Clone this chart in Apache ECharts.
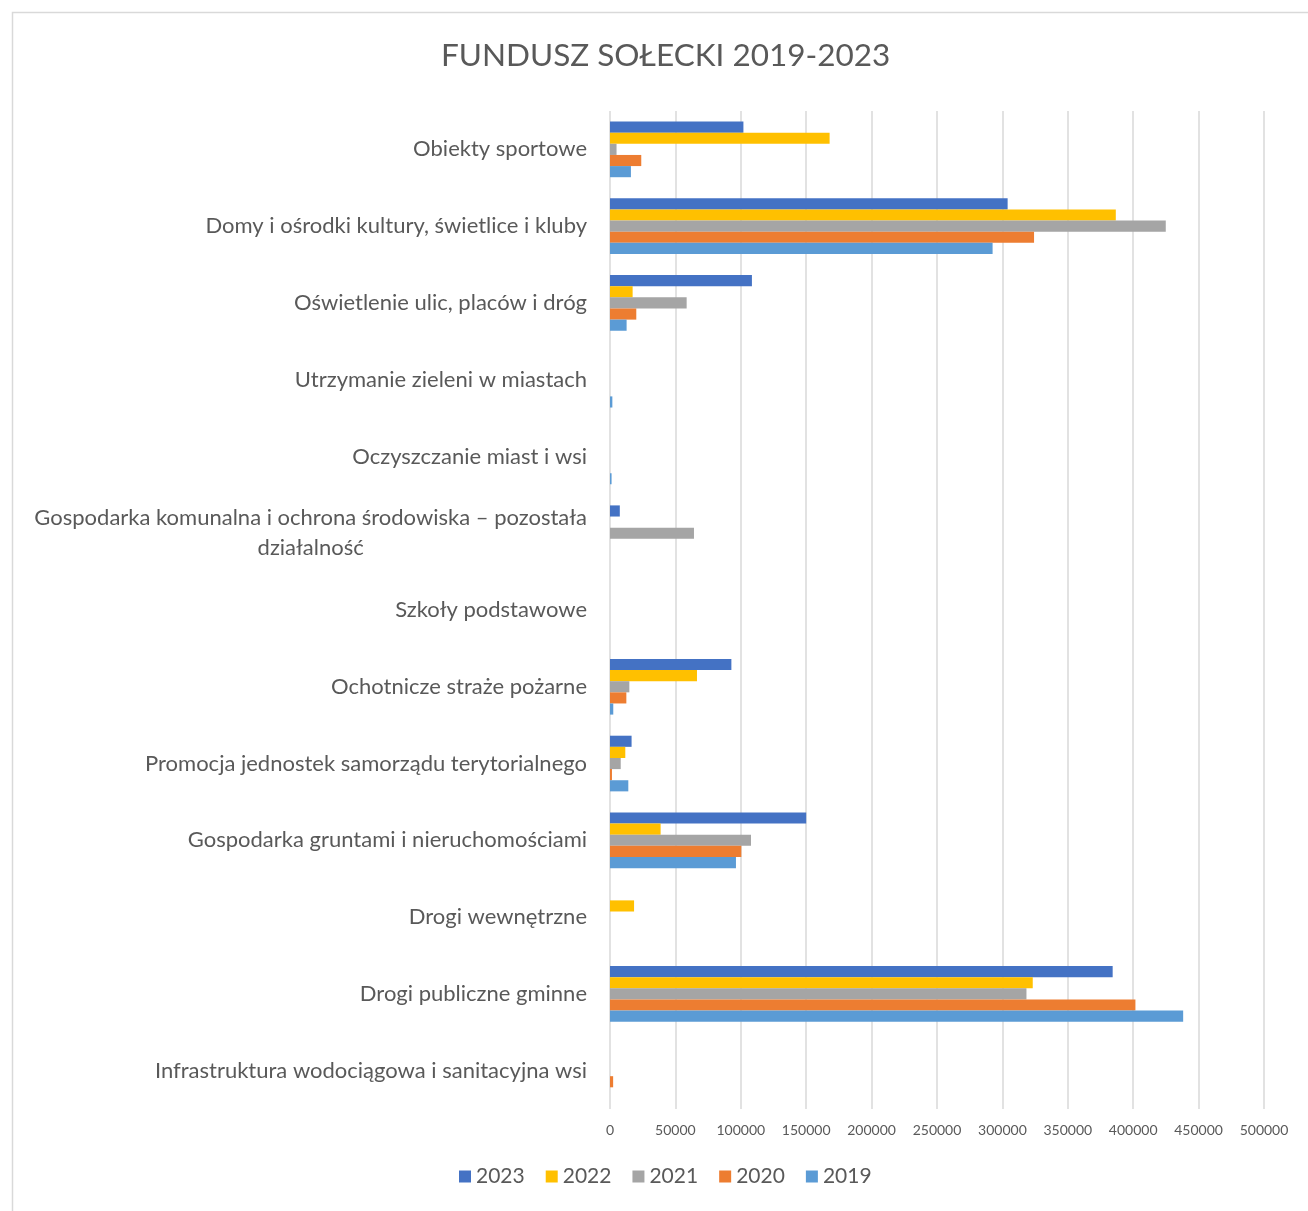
<!DOCTYPE html>
<html>
<head>
<meta charset="utf-8">
<script src="https://cdn.jsdelivr.net/npm/echarts@6/dist/echarts.min.js"></script>
<style>
html,body{margin:0;padding:0;background:#fff;}
#c{width:1308px;height:1211px;}
</style>
</head>
<body>
<div id="c"></div>
<script>
const title = 'FUNDUSZ SOŁECKI 2019-2023';
const categories = [
  'Obiekty sportowe',
  'Domy i ośrodki kultury, świetlice i kluby',
  'Oświetlenie ulic, placów i dróg',
  'Utrzymanie zieleni w miastach',
  'Oczyszczanie miast i wsi',
  'Gospodarka komunalna i ochrona środowiska – pozostała działalność',
  'Szkoły podstawowe',
  'Ochotnicze straże pożarne',
  'Promocja jednostek samorządu terytorialnego',
  'Gospodarka gruntami i nieruchomościami',
  'Drogi wewnętrzne',
  'Drogi publiczne gminne',
  'Infrastruktura wodociągowa i sanitacyjna wsi'
];
const seriesNames = ['2023', '2022', '2021', '2020', '2019'];
const v2023 = [102000, 304000, 108500, 0, 0, 7500, 0, 92800, 16500, 150000, 0, 384300, 0];
const v2022 = [167900, 386700, 17300, 0, 0, 0, 0, 66500, 11700, 38700, 18400, 323200, 0];
const v2021 = [5000, 424900, 58600, 0, 0, 64200, 0, 14800, 8200, 107800, 0, 318400, 0];
const v2020 = [23900, 324200, 20100, 0, 0, 0, 0, 12500, 1500, 100400, 0, 401700, 2400];
const v2019 = [16000, 292500, 12700, 1800, 1200, 0, 0, 2500, 14000, 96300, 0, 438200, 0];
const colors = ['#4472C4', '#FFC000', '#A5A5A5', '#ED7D31', '#5B9BD5'];
const xTicks = [0, 50000, 100000, 150000, 200000, 250000, 300000, 350000, 400000, 450000, 500000];

const allValues = [v2023, v2022, v2021, v2020, v2019];
const FONT = 'Lato';
const chart = echarts.init(document.getElementById('c'));
chart.setOption({
  backgroundColor: '#fff',
  animation: false,
  color: colors,
  title: {
    text: title, left: 436, top: 35,
    textStyle: {fontFamily: FONT, fontSize: 31.5, fontWeight: 'normal', color: '#595959'}
  },
  graphic: [{
    type: 'rect', left: 10, top: 10, silent: true,
    shape: {width: 1320, height: 1230},
    style: {fill: 'none', stroke: '#d9d9d9', lineWidth: 1.5}
  }],
  legend: {
    bottom: 19, left: 454,
    itemWidth: 12, itemHeight: 12, itemGap: 21,
    icon: 'rect',
    textStyle: {fontFamily: FONT, fontSize: 21, color: '#595959'},
    data: seriesNames
  },
  grid: {left: 610, right: 44, top: 111, bottom: 102, containLabel: false},
  xAxis: {
    type: 'value', min: xTicks[0], max: xTicks[xTicks.length - 1],
    interval: xTicks[1] - xTicks[0],
    axisLine: {show: false}, axisTick: {show: false},
    splitLine: {show: true, lineStyle: {color: '#d9d9d9', width: 1.5}},
    axisLabel: {fontFamily: FONT, fontSize: 14, color: '#595959', margin: 14,
      formatter: v => String(v)}
  },
  yAxis: {
    type: 'category', inverse: true, data: categories,
    axisLine: {show: false}, axisTick: {show: false},
    axisLabel: {
      fontFamily: FONT, fontSize: 22, color: '#595959', margin: 23,
      lineHeight: 30,
      formatter: function (v) {
        const idx = v.indexOf(' działalność');
        if (idx > 0) {
          return '{c|' + v.slice(0, idx) + '}\n{c|' + v.slice(idx + 1) + '}';
        }
        return v;
      },
      rich: {c: {align: 'center', fontFamily: FONT, fontSize: 22, color: '#595959', lineHeight: 30}}
    }
  },
  series: seriesNames.map((n, i) => ({
    name: n, type: 'bar', data: allValues[i],
    barGap: '0%', barCategoryGap: '27.5%',
    itemStyle: {color: colors[i]}
  }))
});
</script>
</body>
</html>
